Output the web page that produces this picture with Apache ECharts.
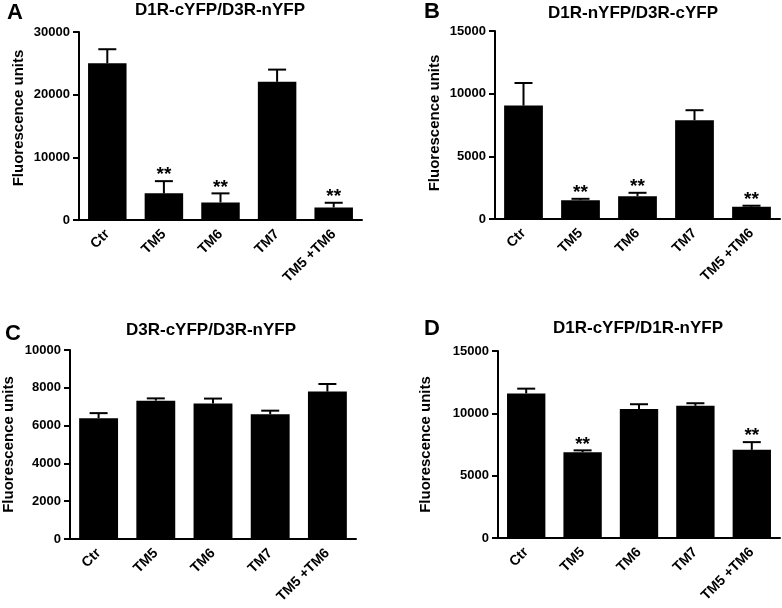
<!DOCTYPE html>
<html><head><meta charset="utf-8">
<script src="https://cdn.jsdelivr.net/npm/echarts@6/dist/echarts.min.js"></script>
<style>html,body{margin:0;padding:0;background:#fff}#c{width:782px;height:608px}</style>
</head><body><div id="c"></div>
<script>
var categories = ['Ctr', 'TM5', 'TM6', 'TM7', 'TM5 +TM6'];
var titles = ['D1R-cYFP/D3R-nYFP', 'D1R-nYFP/D3R-cYFP', 'D3R-cYFP/D3R-nYFP', 'D1R-cYFP/D1R-nYFP'];
var letters = ['A', 'B', 'C', 'D'];
var meanA = [25000, 4250, 2800, 22050, 2000];
var semA = [2250, 1950, 1450, 1950, 750];
var sigA = ['', '**', '**', '', '**'];
var meanB = [9050, 1500, 1820, 7880, 980];
var semB = [1800, 110, 270, 800, 80];
var sigB = ['', '**', '**', '', '**'];
var meanC = [6390, 7320, 7165, 6600, 7800];
var semC = [270, 120, 265, 190, 400];
var sigC = ['', '', '', '', ''];
var meanD = [11600, 6880, 10350, 10600, 7070];
var semD = [380, 150, 380, 210, 620];
var sigD = ['', '**', '', '', '**'];
var yMax = [30000, 15000, 10000, 15000];
var yStep = [10000, 5000, 2000, 5000];

var FONT = 'Arial, "Liberation Sans", sans-serif';
var panels = [
  {mean: meanA, sem: semA, sig: sigA, grid: {left: 79, top: 32, width: 283, height: 188}, gap: 53, pad: [0, 0, 0, 16], title: [220, 10], letter: [15, 13]},
  {mean: meanB, sem: semB, sig: sigB, grid: {left: 495, top: 31, width: 285, height: 188}, gap: 53, pad: [0, 0, 0, 4], title: [633, 13], letter: [432, 12]},
  {mean: meanC, sem: semC, sig: sigC, grid: {left: 70, top: 350, width: 286, height: 189}, gap: 54, pad: 0, title: [211, 330], letter: [13, 334]},
  {mean: meanD, sem: semD, sig: sigD, grid: {left: 498, top: 351, width: 282, height: 187}, gap: 65, pad: 0, title: [638, 328], letter: [432, 329]}
];

var grids = [], xAxes = [], yAxes = [], series = [], graphics = [];
panels.forEach(function (p, k) {
  grids.push(p.grid);
  xAxes.push({
    type: 'category', gridIndex: k, data: categories,
    axisLine: {lineStyle: {color: '#000', width: 2}},
    axisTick: {show: false},
    axisLabel: {rotate: 45, margin: 12, color: '#000', fontWeight: 'bold', fontSize: 14, fontFamily: FONT, interval: 0}
  });
  yAxes.push({
    type: 'value', gridIndex: k, min: 0, max: yMax[k], interval: yStep[k],
    name: 'Fluorescence units', nameLocation: 'middle', nameGap: p.gap,
    nameTextStyle: {color: '#000', fontWeight: 'bold', fontSize: 15, fontFamily: FONT, padding: p.pad},
    axisLine: {show: true, lineStyle: {color: '#000', width: 2}},
    axisTick: {show: true, length: 6, lineStyle: {color: '#000', width: 2}},
    axisLabel: {margin: 9, color: '#000', fontWeight: 'bold', fontSize: 13, fontFamily: FONT,
      formatter: function (v) { return String(v); }},
    splitLine: {show: false}
  });
  series.push({
    type: 'bar', xAxisIndex: k, yAxisIndex: k, data: p.mean,
    barWidth: '68%', itemStyle: {color: '#000'}, silent: true, z: 2
  });
  var errData = p.mean.map(function (m, i) { return [i, m, p.sem[i]]; });
  series.push({
    type: 'custom', xAxisIndex: k, yAxisIndex: k, data: errData, z: 3, silent: true,
    renderItem: (function (sig) {
      return function (params, api) {
        var i = api.value(0), m = api.value(1), s = api.value(2);
        var base = api.coord([i, m]);
        var top = api.coord([i, m + s]);
        var children = [
          {type: 'line', shape: {x1: base[0], y1: base[1], x2: top[0], y2: top[1]}, style: {stroke: '#000', lineWidth: 2}},
          {type: 'line', shape: {x1: top[0] - 9, y1: top[1], x2: top[0] + 9, y2: top[1]}, style: {stroke: '#000', lineWidth: 2}}
        ];
        if (sig[params.dataIndex]) {
          children.push({type: 'text', x: top[0], y: top[1] - 6, style: {text: sig[params.dataIndex], textAlign: 'center', textVerticalAlign: 'middle', fill: '#000', font: 'bold 19px ' + FONT}});
        }
        return {type: 'group', children: children};
      };
    })(p.sig)
  });
  graphics.push({type: 'text', x: p.title[0], y: p.title[1], style: {text: titles[k], textAlign: 'center', textVerticalAlign: 'middle', fill: '#000', font: 'bold 17px ' + FONT}});
  graphics.push({type: 'text', x: p.letter[0], y: p.letter[1], style: {text: letters[k], textAlign: 'center', textVerticalAlign: 'middle', fill: '#000', font: 'bold 22px ' + FONT}});
});

var chart = echarts.init(document.getElementById('c'), null, {renderer: 'canvas'});
chart.setOption({
  animation: false,
  backgroundColor: '#fff',
  grid: grids, xAxis: xAxes, yAxis: yAxes, series: series, graphic: graphics
});
</script></body></html>
